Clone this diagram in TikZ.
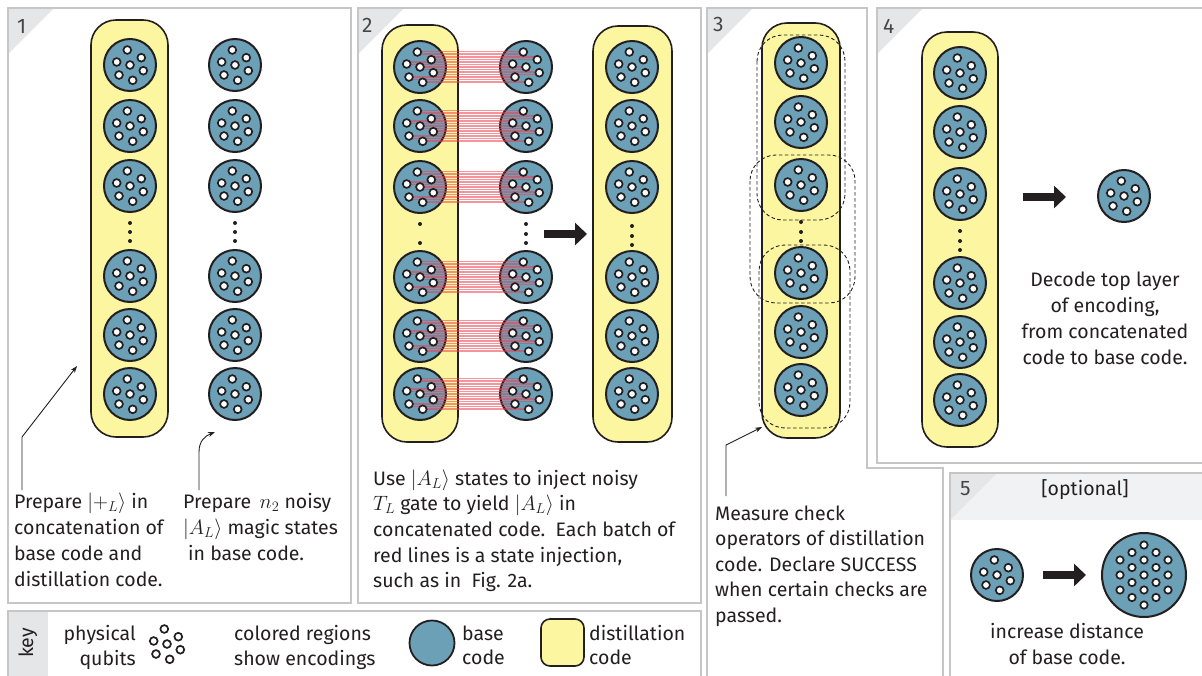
\documentclass[tikz,border=0pt]{standalone}
\usepackage{fontspec}
\setmainfont{Fira Sans}
\usetikzlibrary{arrows.meta}
\definecolor{ink}{RGB}{35,31,32}
\definecolor{bluec}{RGB}{108,160,182}
\definecolor{yelc}{RGB}{252,246,160}
\definecolor{pgray}{RGB}{198,198,198}
\definecolor{tgray}{RGB}{229,230,232}
\definecolor{hgray}{RGB}{241,242,243}
\definecolor{ngray}{RGB}{70,70,70}
\definecolor{redl}{RGB}{236,62,78}
\newcommand{\qpat}[2]{\foreach \dx/\dy in {-2.7/-15,-13.3/-3,0/0,11.3/-7.3,13.3/5.7,-11/10,2.7/15.3}{\draw[qb] ({#1+\dx},{#2+\dy}) circle[radius=3.9];}}
\newcommand{\bcode}[3]{\node[base] (#1) at (#2,#3) {};\qpat{#2}{#3}}
\newcommand{\vdts}[4]{\foreach \yy in {#2,#3,#4}{\fill[ink] (#1,\yy) circle[radius=2];}}
\newcommand{\para}[6]{\foreach \t [count=\i] in {#6}{\node[txt,anchor=#5] (#1\i) at (#2,{#3+(\i-1)*#4}) {\t};}}
\begin{document}
\begin{tikzpicture}[x=1pt,y=-1pt,
  panel/.style={draw=pgray,line width=2pt},
  yel/.style={draw=ink,fill=yelc,line width=1.6pt,rounded corners=25pt},
  base/.style={circle,draw=ink,fill=bluec,line width=2pt,minimum size=52pt,inner sep=0pt},
  qb/.style={draw=ink,fill=white,line width=1.7pt},
  txt/.style={font=\fontsize{19.5}{26}\selectfont,text=ink,inner sep=0pt},
  num/.style={font=\fontsize{21}{24}\selectfont,text=ngray,inner sep=0pt,anchor=base west},
  ann/.style={draw=ink,line width=0.9pt,-{Stealth[length=7pt,width=5pt]}},
  bigarr/.style={draw=ink,line width=8.5pt,-{Triangle[length=12pt,width=22pt]}},
  dsh/.style={draw=ink,line width=0.9pt,dash pattern=on 3.5pt off 2.5pt,rounded corners=26pt},
  redline/.style={draw=redl,line width=1.8pt,opacity=0.55}]
\useasboundingbox (0,0) rectangle (1202,675);
\fill[white] (0,0) rectangle (1202,675);
% ---------- panel frames ----------
\fill[tgray] (8,8) -- (54,8) -- (8,54) -- cycle;
\fill[tgray] (358,8) -- (404,8) -- (358,54) -- cycle;
\fill[tgray] (707,8) -- (753,8) -- (707,54) -- cycle;
\fill[tgray] (877,8) -- (923,8) -- (877,54) -- cycle;
\fill[hgray] (950,473) rectangle (1210,520);
\fill[tgray] (950,473) -- (997,473) -- (950,520) -- cycle;
\fill[tgray] (8,611) rectangle (48,690);
\draw[panel] (8,8) rectangle (351,603);
\draw[panel] (358,8) rectangle (701,603);
\draw[panel] (8,611) rectangle (701,690);
\draw[panel] (707,690) -- (707,8) -- (867,8) -- (867,468) -- (943,468) -- (943,690);
\draw[panel] (877,8) rectangle (1210,463);
\draw[panel] (950,473) rectangle (1210,690);
\node[num] (n1) at (17,33) {1};
\node[num] (n2) at (362,32) {2};
\node[num] (n3) at (713,31) {3};
\node[num] (n4) at (883,33) {4};
\node[num] (n5) at (960,495) {5};
\node[txt,anchor=base] (opt) at (1085,495) {[optional]};
% ---------- panel 1 ----------
\draw[yel] (91,20) rectangle (168,437);
\foreach \y [count=\k] in {65,126,186,276,335,394}{\bcode{pa\k}{130}{\y}\bcode{pb\k}{235}{\y}}
\vdts{130}{223}{232}{241}
\vdts{235}{223}{232}{241}
\coordinate (c1a) at (22,490); \coordinate (c1b) at (22,437); \coordinate (c1c) at (77,366);
\draw[ann] (c1a) -- (c1b) -- (c1c);
\coordinate (c2a) at (199,490); \coordinate (c2b) at (199,452); \coordinate (c2c) at (215,432);
\draw[ann] (c2a) -- (c2b) .. controls (199,441) and (205,436) .. (c2c);
\para{ta}{14}{508}{26.3}{base west}{Prepare $|+_L\rangle$ in,concatenation of,base code and,distillation code.}
\para{tb}{183}{508}{26.3}{base west}{Prepare \,$n_2$ noisy,$|A_L\rangle$ magic states,\hspace*{5pt}in base code.}
% ---------- panel 2 ----------
\draw[yel] (382,25) rectangle (458,442);
\draw[yel] (593,26) rectangle (672,442);
\foreach \y [count=\k] in {67,126,187,277,336,394}{\node[base] (qa\k) at (420,\y) {};\node[base] (qb\k) at (526,\y) {};}
\foreach \y in {67,126,187,277,336,394}{
  \foreach \dx/\dy in {-2.7/-15.5,-2.7/-13,11.3/-10,11.3/-7.5,-13.3/-5,-13.3/-2.5,0/0,0/2.5,13.3/5,13.3/7.5,-11/10,-11/12.5,2.7/15}{
    \draw[redline] ({420+\dx},{\y+\dy}) -- ({526+\dx},{\y+\dy});}
  \qpat{420}{\y}\qpat{526}{\y}}
\foreach \y [count=\k] in {67,126,187,277,336,394}{\bcode{qc\k}{632}{\y}}
\fill[ink] (420,224) circle[radius=2];
\fill[ink] (420,243) circle[radius=2];
\vdts{526}{224}{234}{243}
\vdts{632}{226}{236}{245}
\coordinate (a2s) at (544,234); \coordinate (a2e) at (587,234);
\draw[bigarr] (a2s) -- (a2e);
\para{tc}{373}{485}{25.7}{base west}{Use $|A_L\rangle$ states to inject noisy,$T_L$ gate to yield $|A_L\rangle$ in,concatenated code.\ \ Each batch of,{red lines is a state injection,},such as in \ Fig. 2a.}
% ---------- panel 3 ----------
\draw[yel] (762,23) rectangle (840,438);
\draw[dsh] (757,35) rectangle (845,220);
\draw[dsh] (750,155) rectangle (855,303);
\draw[dsh] (759,245) rectangle (850,428);
\foreach \y [count=\k] in {63,122,185,273,332,390}{\bcode{r\k}{801}{\y}}
\vdts{801}{222}{232}{241}
\coordinate (c3a) at (726,496); \coordinate (c3b) at (726,445); \coordinate (c3c) at (762,427);
\draw[ann] (c3a) -- (c3b) -- (c3c);
\para{td}{715}{520}{25.5}{base west}{Measure check,operators of distillation,code. Declare SUCCESS,when certain checks are,passed.}
% ---------- panel 4 ----------
\draw[yel] (922,32) rectangle (998,447);
\foreach \y [count=\k] in {73,132,194,283,342,400}{\bcode{s\k}{960}{\y}}
\vdts{960}{231}{241}{250}
\coordinate (a4s) at (1023,197); \coordinate (a4e) at (1066,197);
\draw[bigarr] (a4s) -- (a4e);
\bcode{s7}{1124}{196}
\para{te}{1105}{286}{26.3}{base}{Decode top layer,{of encoding,},from concatenated,code to base code.}
% ---------- panel 5 ----------
\bcode{u1}{997}{575}
\coordinate (a5s) at (1043,575); \coordinate (a5e) at (1086,575);
\draw[bigarr] (a5s) -- (a5e);
\node[base,minimum size=84pt] (u2) at (1144,575) {};
\foreach \dy in {-30,-15,0,15,30}{\draw[qb] (1144,{575+\dy}) circle[radius=3.7];}
\foreach \dx in {-12,12}{\foreach \dy in {-22.5,-7.5,7.5,22.5}{\draw[qb] ({1144+\dx},{575+\dy}) circle[radius=3.7];}}
\foreach \dx in {-24,24}{\foreach \dy in {-15,0,15}{\draw[qb] ({1144+\dx},{575+\dy}) circle[radius=3.7];}}
\para{tf}{1067}{638}{26}{base}{increase distance,of base code.}
% ---------- key ----------
\node[txt,rotate=90] (keyl) at (28,643) {key};
\node[txt,anchor=base east] (k1) at (136,640) {physical};
\node[txt,anchor=base east] (k2) at (136,665) {qubits};
\qpat{167}{644}
\node[txt,anchor=base west] (k3) at (234,640) {colored regions};
\node[txt,anchor=base west] (k4) at (234,665) {show encodings};
\node[base,minimum size=45pt,line width=1.8pt] (kb) at (432,643) {};
\node[txt,anchor=base west] (k5) at (462,640) {base};
\node[txt,anchor=base west] (k6) at (462,664) {code};
\draw[yel,rounded corners=9pt] (541,619) rectangle (584,666);
\node[txt,anchor=base west] (k7) at (589,640) {distillation};
\node[txt,anchor=base west] (k8) at (589,664) {code};
\end{tikzpicture}
\end{document}
